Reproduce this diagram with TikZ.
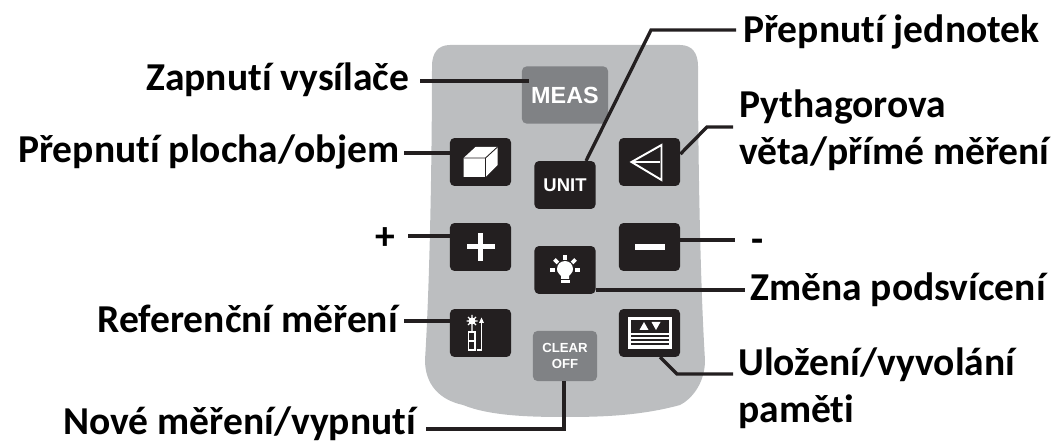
\documentclass[tikz,border=0pt]{standalone}
\usepackage{fontspec}
\usetikzlibrary{calc}
\setmainfont[RawFeature={-liga}]{Carlito}
\newfontfamily\keyfont{Liberation Sans}
\definecolor{bodygray}{HTML}{BCBEC0}
\definecolor{keygray}{HTML}{808285}
\definecolor{keydark}{HTML}{231F20}
\tikzset{
    lbl/.style={anchor=west, inner sep=0pt, align=left, font=\fontsize{22.5}{26.7}\selectfont\bfseries, text=black},
    key/.style={fill=keydark, rounded corners=2.6pt, inner sep=0pt, minimum width=34.8pt, minimum height=27.3pt, text=white, align=center},
    softkey/.style={key, fill=keygray},
    leader/.style={draw=keydark, line width=1.9pt},
    icon/.style={white, line width=1.1pt}
}
\begin{document}
\begin{tikzpicture}[x=0.02cm, y=-0.02cm]
    \useasboundingbox (0,0) rectangle (1056,442);

    % Casing
    \fill[bodygray] (450,45) -- (680,45) .. controls (692,45) and (698,53) .. (698,66)
        .. controls (698,150) and (700,280) .. (705,360)
        .. controls (705,385) and (690,400) .. (680,405)
        .. controls (640,416) and (600,417) .. (565,417)
        .. controls (530,417) and (490,416) .. (463,405)
        .. controls (440,400) and (425,385) .. (425,360)
        .. controls (430,280) and (432,150) .. (432,66)
        .. controls (432,53) and (438,45) .. (450,45) -- cycle;

    % Keys
    \node[softkey, minimum width=49pt, minimum height=32.5pt, font=\keyfont\fontsize{13.3}{14}\selectfont\bfseries] (keymeas) at (565,95) {MEAS};
    \node[key] (keycube) at (480.5,162) {};
    \node[key, font=\keyfont\fontsize{10.5}{12}\selectfont\bfseries] (keyunit) at (565,185) {UNIT};
    \node[key] (keytri) at (649.5,162) {};
    \node[key] (keyplus) at (480.5,247) {};
    \node[key] (keyminus) at (649.5,247) {};
    \node[key] (keybulb) at (565,270) {};
    \node[key] (keyref) at (480.5,333) {};
    \node[key] (keymem) at (649.5,333) {};
    \node[softkey, minimum width=36.5pt, minimum height=28.5pt, font=\keyfont\fontsize{7.5}{8.6}\selectfont\bfseries] (keyclear) at (565,356) {CLEAR\\OFF};

    % Cube icon
    \begin{scope}[shift={(keycube.center)}]
        \fill[white] (-17,-4) -- (-5,-15) -- (17,-15) -- (17,3) -- (5,15) -- (-17,15) -- cycle;
        \draw[keydark, line width=0.5pt] (-17,-4) -- (5,-4) -- (17,-15) (5,-4) -- (5,15);
    \end{scope}

    % Triangle icon
    \begin{scope}[shift={(keytri.center)}]
        \draw[icon, line join=miter] (12,-17) -- (-18,0) -- (12,18) -- cycle;
        \draw[icon] (-18,0) -- (10,0);
    \end{scope}

    % Plus and minus icons
    \fill[white] ($(keyplus.center)+(-14,-2.5)$) rectangle ($(keyplus.center)+(14,2.5)$);
    \fill[white] ($(keyplus.center)+(-2.5,-14)$) rectangle ($(keyplus.center)+(2.5,14)$);
    \fill[white] ($(keyminus.center)+(-15,-3)$) rectangle ($(keyminus.center)+(15,3)$);

    % Bulb icon
    \begin{scope}[shift={(keybulb.center)}]
        \fill[white] (-4,9) -- (-4,6) .. controls (-5,4) and (-8,3) .. (-8,-1) arc (180:360:8) .. controls (8,3) and (5,4) .. (4,6) -- (4,9) -- cycle;
        \fill[white] (-4.5,10.5) rectangle (4.5,13);
        \foreach \ang in {0,45,90,135,180} {
            \draw[white, line width=2.2pt] (-\ang:10) -- (-\ang:15);
        }
    \end{scope}

    % Reference icon
    \begin{scope}[shift={(keyref.center)}]
        \fill[white] (-8.5,-12) circle (3.5);
        \draw[white, line width=0.7pt] (-8.5,-18) -- (-8.5,-1) (-14,-12) -- (-3,-12) (-12.5,-16) -- (-4.5,-8) (-12.5,-8) -- (-4.5,-16);
        \draw[white, line width=0.9pt] (-12,-1) rectangle (-5.5,17) (-12,8) -- (-5.5,8);
        \draw[white, line width=0.7pt] (-4,17) -- (1,17) -- (1,-11);
        \fill[white] (1,-15.5) -- (-1.5,-10) -- (3.5,-10) -- cycle;
    \end{scope}

    % Memory icon
    \begin{scope}[shift={(keymem.center)}]
        \fill[white] (-22,-16) rectangle (22,16);
        \fill[keydark] (-19,-13) rectangle (19,0);
        \fill[keydark] (-19,2.5) rectangle (19,4);
        \fill[keydark] (-19,6.5) rectangle (19,8);
        \fill[keydark] (-19,10.5) rectangle (19,12);
        \fill[white] (-10,-3) -- (-1,-3) -- (-5.5,-11) -- cycle;
        \fill[white] (2,-11) -- (11,-11) -- (6.5,-3) -- cycle;
    \end{scope}

    % Labels
    \node[lbl] (lblzap) at (146,80) {Zapnutí vysílače};
    \node[lbl] (lblplocha) at (18,152) {Přepnutí plocha/objem};
    \node[lbl] (lblplus) at (375.5,239) {+};
    \node[lbl] (lblref) at (97,319) {Referenční měření};
    \node[lbl] (lblnove) at (63,424) {Nové měření/vypnutí};
    \node[lbl] (lblunit) at (743,32) {Přepnutí jednotek};
    \node[lbl] (lblpyth) at (739,130) {Pythagorova\\věta/přímé měření};
    \node[lbl] (lblminus) at (751,246) {-};
    \node[lbl] (lblbulb) at (750,290) {Změna podsvícení};
    \node[lbl] (lblmem) at (738,388) {Uložení/vyvolání\\paměti};

    % Free ends and bends
    \coordinate (endzap) at (420,81);
    \coordinate (endmeas) at (529,81);
    \coordinate (endplocha) at (404,153);
    \coordinate (endplus) at (408,236);
    \coordinate (endref) at (404,321);
    \coordinate (bendclear) at (564,429);
    \coordinate (endnove) at (426,429);
    \coordinate (bendunit) at (651,30);
    \coordinate (endunit) at (736,30);
    \coordinate (bendtri) at (707,127);
    \coordinate (endtri) at (733,127);
    \coordinate (endminus) at (735,240);
    \coordinate (endbulb) at (745,290);
    \coordinate (bendmem) at (677,374);
    \coordinate (endmem) at (733,374);

    % Leaders
    \draw[leader] (endzap) -- (endmeas);
    \draw[leader] (endplocha) -- (keycube.west |- endplocha);
    \draw[leader] (endplus) -- (keyplus.west |- endplus);
    \draw[leader] (endref) -- (keyref.west |- endref);
    \draw[leader] (keyclear.south -| bendclear) -- (bendclear) -- (endnove);
    \draw[leader] (586,161) -- (bendunit) -- (endunit);
    \draw[leader] (keytri.east |- 0,154) -- (bendtri) -- (endtri);
    \draw[leader] (keyminus.east |- endminus) -- (endminus);
    \draw[leader] (keybulb.east |- endbulb) -- (endbulb);
    \draw[leader] (660,357) -- (bendmem) -- (endmem);
\end{tikzpicture}
\end{document}
